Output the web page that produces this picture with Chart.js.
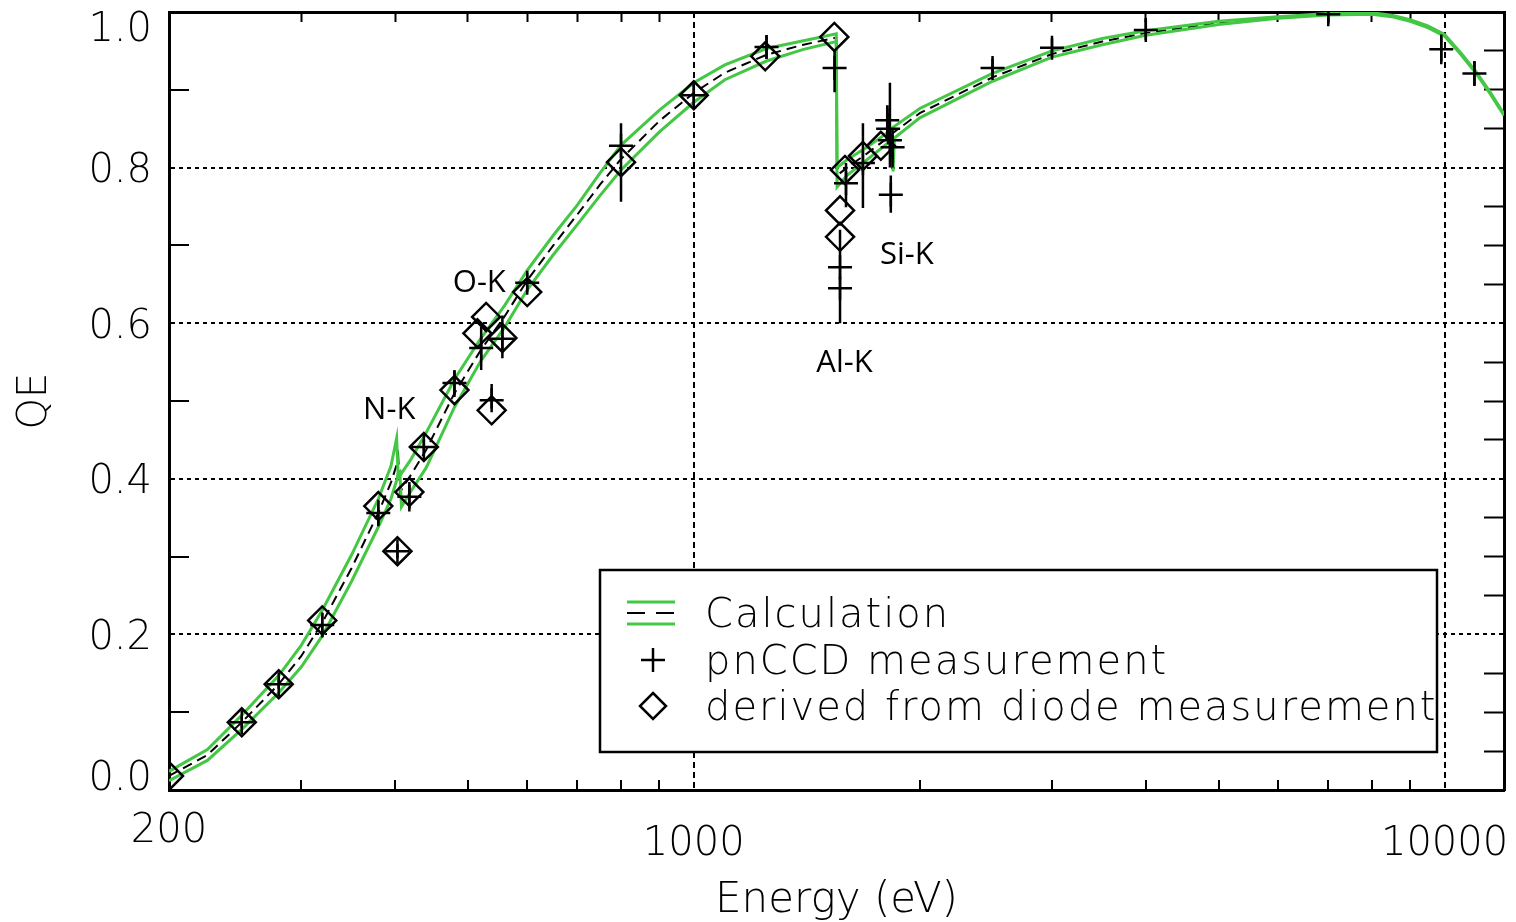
<!DOCTYPE html>
<html>
<head>
<meta charset="utf-8">
<title>QE</title>
<script src="https://cdn.jsdelivr.net/npm/chart.js@4.4.1/dist/chart.umd.min.js"></script>
<style>
  html, body { margin: 0; padding: 0; background: #fff; }
  canvas { display: block; }
</style>
</head>
<body>
<canvas id="chartQE" width="1516" height="922"></canvas>
<script>
//calculation grid (eV) and the three calculated curves
const calcEnergy = [200, 225, 250, 280, 300, 320, 350, 380, 395, 402, 404, 406, 408, 420, 440, 480, 520, 560, 600, 650, 700, 750, 800, 900, 1000, 1100, 1250, 1400, 1548, 1552, 1600, 1700, 1800, 1838, 1843, 1850, 2000, 2500, 3000, 3500, 4000, 5000, 6000, 7000, 8000, 8500, 9000, 9500, 10000, 10500, 11000, 11500, 12000];
const calcUpper = [0.024, 0.052, 0.096, 0.147, 0.186, 0.231, 0.302, 0.374, 0.416, 0.452, 0.402, 0.404, 0.407, 0.425, 0.459, 0.528, 0.580, 0.623, 0.668, 0.713, 0.752, 0.793, 0.829, 0.874, 0.909, 0.932, 0.953, 0.963, 0.972, 0.800, 0.810, 0.826, 0.843, 0.850, 0.852, 0.853, 0.876, 0.921, 0.950, 0.966, 0.976, 0.988, 0.994, 0.998, 0.999, 0.996, 0.990, 0.982, 0.971, 0.948, 0.924, 0.897, 0.869];
const calcMid = [0.018, 0.045, 0.087, 0.136, 0.172, 0.215, 0.285, 0.356, 0.395, 0.418, 0.428, 0.383, 0.386, 0.405, 0.437, 0.510, 0.565, 0.609, 0.655, 0.700, 0.740, 0.778, 0.811, 0.860, 0.896, 0.922, 0.945, 0.958, 0.967, 0.790, 0.800, 0.818, 0.836, 0.843, 0.845, 0.846, 0.870, 0.916, 0.946, 0.962, 0.973, 0.986, 0.993, 0.997, 0.998, 0.995, 0.989, 0.981, 0.970, 0.947, 0.923, 0.896, 0.868];
const calcLower = [0.012, 0.038, 0.078, 0.125, 0.158, 0.198, 0.268, 0.338, 0.374, 0.398, 0.407, 0.409, 0.364, 0.384, 0.414, 0.492, 0.551, 0.595, 0.643, 0.688, 0.727, 0.764, 0.797, 0.846, 0.884, 0.913, 0.937, 0.952, 0.962, 0.775, 0.790, 0.810, 0.829, 0.836, 0.795, 0.838, 0.864, 0.911, 0.942, 0.958, 0.970, 0.984, 0.992, 0.996, 0.997, 0.994, 0.988, 0.980, 0.969, 0.946, 0.922, 0.895, 0.867];

//pnCCD measurement with error bar limits
const pnEnergy = [250, 280, 320, 380, 403, 418, 437, 480, 521, 538, 556, 600, 800, 1000, 1250, 1540, 1566, 1566, 1595, 1680, 1810, 1815, 1825, 1840, 1830, 2500, 3000, 4000, 7000, 9900, 10960];
const pnQE = [0.087, 0.136, 0.212, 0.356, 0.307, 0.377, 0.441, 0.523, 0.568, 0.501, 0.580, 0.652, 0.828, 0.893, 0.955, 0.928, 0.672, 0.645, 0.780, 0.806, 0.861, 0.850, 0.835, 0.826, 0.765, 0.928, 0.954, 0.977, 0.997, 0.952, 0.921];
const pnLow = [0.080, 0.130, 0.196, 0.339, 0.298, 0.358, 0.432, 0.505, 0.540, 0.490, 0.555, 0.640, 0.756, 0.880, 0.940, 0.897, 0.645, 0.600, 0.749, 0.748, 0.840, 0.830, 0.800, 0.800, 0.742, 0.915, 0.942, 0.964, 0.985, 0.933, 0.905];
const pnHigh = [0.094, 0.142, 0.228, 0.373, 0.316, 0.396, 0.450, 0.540, 0.595, 0.522, 0.610, 0.665, 0.857, 0.907, 0.970, 0.951, 0.720, 0.680, 0.806, 0.857, 0.880, 0.870, 0.909, 0.850, 0.790, 0.940, 0.966, 0.990, 1.000, 0.971, 0.937];

//values derived from the diode
const diodeEnergy = [200, 250, 280, 320, 380, 403, 418, 437, 480, 515, 529, 538, 556, 600, 800, 1000, 1245, 1539, 1566, 1566, 1590, 1680, 1775];
const diodeQE = [0.018, 0.087, 0.136, 0.218, 0.365, 0.307, 0.383, 0.441, 0.514, 0.587, 0.608, 0.488, 0.581, 0.640, 0.807, 0.893, 0.943, 0.968, 0.745, 0.711, 0.797, 0.815, 0.828];

//axes
const xTicks = [200, 300, 400, 500, 600, 700, 800, 900, 1000, 2000, 3000, 4000, 5000, 6000, 7000, 8000, 9000, 10000];
const xLabels = [200, 1000, 10000];
const xGrid = [1000, 10000];
const yTicks = [0, 0.05, 0.1, 0.15, 0.2, 0.25, 0.3, 0.35, 0.4, 0.45, 0.5, 0.55, 0.6, 0.65, 0.7, 0.75, 0.8, 0.85, 0.9, 0.95, 1];
const yLabels = [0, 0.2, 0.4, 0.6, 0.8, 1];
const yGrid = [0.2, 0.4, 0.6, 0.8];

//absorption edge names
const edgeNames = ['N-K', 'O-K', 'Al-K', 'Si-K'];
const edgeEnergy = [393, 518, 1588, 1922];
const edgeQE = [0.488, 0.652, 0.549, 0.688];

const legendLabels = ['Calculation', 'pnCCD measurement', 'derived from diode measurement'];

const FONT = 'DejaVu Sans';
const WEIGHT = '200';
const GREEN = '#44c744';
const CLEAR = 'rgba(0,0,0,0)';

Chart.defaults.font.family = FONT;
Chart.defaults.font.weight = WEIGHT;
Chart.defaults.color = '#000';

const isIn = (list, v) => list.some(t => Math.abs(t - v) < 1e-6);
const toPoints = (xs, ys) => xs.map((x, i) => ({ x: x, y: ys[i] }));

const errorSegments = [];
pnEnergy.forEach((e, i) => {
  errorSegments.push({ x: e, y: pnLow[i] }, { x: e, y: pnHigh[i] }, { x: e, y: null });
});

//scale helpers
const setXTicks = scale => { scale.ticks = xTicks.map(v => ({ value: v })); };
const setYTicks = scale => { scale.ticks = yTicks.map(v => ({ value: v })); };
const xTickColor = c => (c.tick && !isIn(xLabels, c.tick.value) ? '#000' : CLEAR);
const yTickColor = c => (c.tick && !isIn(yLabels, c.tick.value) ? '#000' : CLEAR);

//nudges tick labels like in the original figure (light font sits high)
const labelShift = {
  id: 'labelShift',
  beforeDraw(chart) {
    const move = (scale, dyOf) => {
      scale.getLabelItems().forEach(item => {
        if (!item.moved) {
          item.options.translation[1] += dyOf(item.label);
          item.moved = true;
        }
      });
    };
    move(chart.scales.y, t => (t === '1.0' ? 19 : t === '0.0' ? -10 : 4));
    move(chart.scales.x, t => (t === '200' ? -13 : 0));
  }
};

//edge names and the boxed legend
const annotations = {
  id: 'annotations',
  afterDraw(chart) {
    const { ctx, chartArea: ca, scales } = chart;
    ctx.save();
    ctx.fillStyle = '#000';
    ctx.font = '31px "Open Sans"';
    ctx.textAlign = 'center';
    ctx.textBaseline = 'middle';
    edgeNames.forEach((name, i) => {
      ctx.fillText(name, scales.x.getPixelForValue(edgeEnergy[i]), scales.y.getPixelForValue(edgeQE[i]));
    });

    const left = ca.left + 431;
    const top = ca.top + 558;
    ctx.fillStyle = '#fff';
    ctx.fillRect(left, top, 837, 182);
    ctx.strokeStyle = '#000';
    ctx.lineWidth = 2.5;
    ctx.strokeRect(left, top, 837, 182);

    const sx = left + 53;
    const rows = [top + 43, top + 90, top + 136];
    const line = (x1, y1, x2, y2) => { ctx.beginPath(); ctx.moveTo(x1, y1); ctx.lineTo(x2, y2); ctx.stroke(); };

    ctx.strokeStyle = GREEN;
    ctx.lineWidth = 3;
    line(sx - 26, rows[0] - 11, sx + 22, rows[0] - 11);
    line(sx - 26, rows[0] + 11, sx + 22, rows[0] + 11);
    ctx.strokeStyle = '#000';
    ctx.lineWidth = 2;
    ctx.setLineDash([18, 11]);
    line(sx - 26, rows[0], sx + 22, rows[0]);
    ctx.setLineDash([]);

    ctx.lineWidth = 2.5;
    line(sx - 12, rows[1], sx + 12, rows[1]);
    line(sx, rows[1] - 12, sx, rows[1] + 12);

    ctx.beginPath();
    ctx.moveTo(sx, rows[2] - 13);
    ctx.lineTo(sx + 13, rows[2]);
    ctx.lineTo(sx, rows[2] + 13);
    ctx.lineTo(sx - 13, rows[2]);
    ctx.closePath();
    ctx.stroke();

    ctx.fillStyle = '#000';
    ctx.font = WEIGHT + ' 40px "' + FONT + '"';
    ctx.letterSpacing = '2px';
    ctx.textAlign = 'left';
    legendLabels.forEach((t, i) => ctx.fillText(t, left + 105, rows[i] + 4));
    ctx.restore();
  }
};

const ctxQE = document.getElementById('chartQE').getContext('2d');
const chartQE = new Chart(ctxQE, {
  type: 'line',
  data: {
    datasets: [
      {
        label: 'pnCCD measurement',
        data: toPoints(pnEnergy, pnQE),
        showLine: false,
        pointStyle: 'cross',
        pointRadius: 12,
        pointBorderWidth: 2.5,
        pointBorderColor: '#000',
        borderColor: '#000',
        order: 0
      },
      {
        label: 'derived from diode measurement',
        data: toPoints(diodeEnergy, diodeQE),
        showLine: false,
        pointStyle: 'rectRot',
        pointRadius: 14,
        pointBorderWidth: 2.5,
        pointBorderColor: '#000',
        pointBackgroundColor: CLEAR,
        borderColor: '#000',
        order: 1
      },
      {
        label: 'error bars',
        data: errorSegments,
        borderColor: '#000',
        borderWidth: 2.5,
        pointRadius: 0,
        spanGaps: false,
        order: 2
      },
      {
        label: 'Calculation upper',
        data: toPoints(calcEnergy, calcUpper),
        borderColor: GREEN,
        borderWidth: 3,
        pointRadius: 0,
        order: 3
      },
      {
        label: 'Calculation lower',
        data: toPoints(calcEnergy, calcLower),
        borderColor: GREEN,
        borderWidth: 3,
        pointRadius: 0,
        order: 4
      },
      {
        label: 'Calculation',
        data: toPoints(calcEnergy, calcMid),
        borderColor: '#000',
        borderWidth: 2,
        borderDash: [10, 6],
        pointRadius: 0,
        order: 5
      }
    ]
  },
  options: {
    responsive: false,
    animation: false,
    events: [],
    layout: { autoPadding: false, padding: { top: 12, right: 12, bottom: 0, left: 0 } },
    plugins: {
      legend: { display: false },
      tooltip: { enabled: false }
    },
    scales: {
      x: {
        type: 'logarithmic',
        position: 'bottom',
        min: 200,
        max: 12000,
        afterBuildTicks: setXTicks,
        afterFit: s => { s.height = 132; s.paddingLeft = 0; s.paddingRight = 0; },
        ticks: {
          autoSkip: false,
          maxRotation: 0,
          padding: 41,
          font: { size: 40 },
          color: '#000',
          callback: v => (isIn(xLabels, v) ? String(v) : '')
        },
        grid: {
          color: c => (c.tick && isIn(xGrid, c.tick.value) ? '#000' : CLEAR),
          lineWidth: 2,
          tickLength: -10,
          tickWidth: 2,
          tickColor: xTickColor
        },
        border: { color: '#000', width: 3, dash: [6, 4] },
        title: { display: true, text: 'Energy (eV)', font: { size: 42 }, color: '#000', padding: { top: 0, bottom: -4 } }
      },
      xTop: {
        type: 'logarithmic',
        position: 'top',
        min: 200,
        max: 12000,
        afterBuildTicks: setXTicks,
        afterFit: s => { s.height = 0; s.paddingLeft = 0; s.paddingRight = 0; },
        ticks: { display: false },
        grid: { drawOnChartArea: false, tickLength: -10, tickWidth: 2, tickColor: xTickColor },
        border: { color: '#000', width: 3 }
      },
      y: {
        type: 'linear',
        position: 'left',
        min: 0,
        max: 1,
        afterBuildTicks: setYTicks,
        afterFit: s => { s.width = 169; s.paddingTop = 0; s.paddingBottom = 0; },
        ticks: {
          padding: 37,
          font: { size: 40 },
          color: '#000',
          callback: v => (isIn(yLabels, v) ? v.toFixed(1) : '')
        },
        grid: {
          color: c => (c.tick && isIn(yGrid, c.tick.value) ? '#000' : CLEAR),
          lineWidth: 2,
          tickLength: -20,
          tickWidth: 2,
          tickColor: yTickColor
        },
        border: { color: '#000', width: 3, dash: [4, 4] },
        title: { display: true, text: 'QE', font: { size: 40 }, color: '#000', padding: { top: 12, bottom: 0 } }
      },
      yRight: {
        type: 'linear',
        position: 'right',
        min: 0,
        max: 1,
        afterBuildTicks: setYTicks,
        afterFit: s => { s.width = 0; s.paddingTop = 0; s.paddingBottom = 0; },
        ticks: { display: false },
        grid: { drawOnChartArea: false, tickLength: -20, tickWidth: 2, tickColor: yTickColor },
        border: { color: '#000', width: 3 }
      }
    }
  },
  plugins: [labelShift, annotations]
});
</script>
</body>
</html>
